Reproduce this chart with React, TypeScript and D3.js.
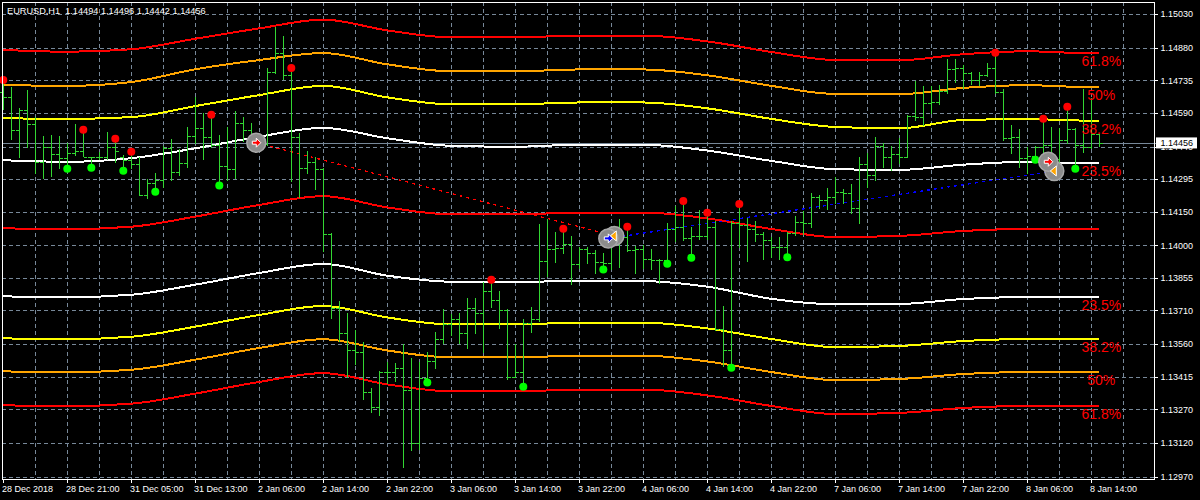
import React, { useEffect, useRef } from 'react';
import * as d3 from 'd3';

const W = 1200;
const H = 500;
const frame = { left: 2, top: 2, right: 1154, bottom: 479 };

const symbolTitle = 'EURUSD,H1  1.14494 1.14496 1.14442 1.14456';
const bidPrice = 1.14456;

// time labels sit on every 8th bar
const timeLabels = [
  '28 Dec 2018', '28 Dec 21:00', '31 Dec 05:00', '31 Dec 13:00', '2 Jan 06:00', '2 Jan 14:00',
  '2 Jan 22:00', '3 Jan 06:00', '3 Jan 14:00', '3 Jan 22:00', '4 Jan 06:00', '4 Jan 14:00',
  '4 Jan 22:00', '7 Jan 06:00', '7 Jan 14:00', '7 Jan 22:00', '8 Jan 06:00', '8 Jan 14:00'
];

const priceTicks = [
  1.15030, 1.14880, 1.14735, 1.14590, 1.14440, 1.14295, 1.14150, 1.14000,
  1.13855, 1.13710, 1.13560, 1.13415, 1.13270, 1.13120, 1.12970
];

// H1 bars, 28 Dec 13:00 .. 8 Jan 15:00
const opens = [
  1.14684, 1.14662, 1.14513, 1.14603, 1.14542, 1.14370, 1.14439, 1.14407, 1.14388, 1.14413,
  1.14420, 1.14395, 1.14392, 1.14395, 1.14438, 1.14393, 1.14380, 1.14362, 1.14226, 1.14276,
  1.14291, 1.14435, 1.14325, 1.14365, 1.14487, 1.14521, 1.14484, 1.14447, 1.14353, 1.14339,
  1.14546, 1.14513, 1.14477, 1.14451, 1.14773, 1.14855, 1.14758, 1.14484, 1.14343, 1.14370,
  1.14340, 1.14049, 1.13720, 1.13608, 1.13534, 1.13525, 1.13349, 1.13279, 1.13435, 1.13438,
  1.13455, 1.13356, 1.13121, 1.13410, 1.13487, 1.13583, 1.13650, 1.13671, 1.13608, 1.13722,
  1.13698, 1.13798, 1.13757, 1.13712, 1.13415, 1.13435, 1.13656, 1.13670, 1.13930, 1.13984,
  1.13987, 1.14006, 1.13916, 1.13982, 1.13965, 1.13927, 1.13920, 1.14031, 1.14039, 1.13979,
  1.13984, 1.13941, 1.13935, 1.13936, 1.14073, 1.14080, 1.14031, 1.14042, 1.14042, 1.14083,
  1.13626, 1.13534, 1.14098, 1.14089, 1.14073, 1.14051, 1.14024, 1.13994, 1.13994, 1.14056,
  1.14105, 1.14101, 1.14217, 1.14202, 1.14217, 1.14239, 1.14232, 1.14165, 1.14361, 1.14313,
  1.14442, 1.14395, 1.14407, 1.14395, 1.14576, 1.14570, 1.14635, 1.14640, 1.14687, 1.14784,
  1.14788, 1.14766, 1.14736, 1.14758, 1.14788, 1.14684, 1.14477, 1.14484, 1.14388, 1.14398,
  1.14437, 1.14447, 1.14384, 1.14469, 1.14517, 1.14447, 1.14439, 1.14494
];
const highs = [
  1.14721, 1.14704, 1.14610, 1.14692, 1.14573, 1.14487, 1.14491, 1.14487, 1.14457, 1.14540,
  1.14500, 1.14395, 1.14414, 1.14505, 1.14460, 1.14402, 1.14402, 1.14395, 1.14294, 1.14321,
  1.14442, 1.14475, 1.14428, 1.14526, 1.14662, 1.14588, 1.14573, 1.14490, 1.14526, 1.14597,
  1.14570, 1.14546, 1.14491, 1.14788, 1.14971, 1.14933, 1.14772, 1.14499, 1.14420, 1.14392,
  1.14343, 1.14054, 1.13752, 1.13700, 1.13623, 1.13571, 1.13364, 1.13441, 1.13482, 1.13478,
  1.13561, 1.13500, 1.13479, 1.13527, 1.13616, 1.13717, 1.13694, 1.13700, 1.13767, 1.13767,
  1.13836, 1.13832, 1.13798, 1.13717, 1.13560, 1.13672, 1.13724, 1.14095, 1.14116, 1.14058,
  1.14061, 1.14042, 1.13994, 1.13994, 1.13979, 1.13967, 1.14054, 1.14116, 1.14068, 1.13997,
  1.14002, 1.13984, 1.13939, 1.14098, 1.14175, 1.14182, 1.14080, 1.14157, 1.14131, 1.14108,
  1.13730, 1.14108, 1.14166, 1.14123, 1.14108, 1.14061, 1.14039, 1.14036, 1.14061, 1.14131,
  1.14153, 1.14234, 1.14224, 1.14254, 1.14306, 1.14250, 1.14273, 1.14395, 1.14413, 1.14481,
  1.14454, 1.14442, 1.14477, 1.14580, 1.14732, 1.14709, 1.14709, 1.14714, 1.14828, 1.14828,
  1.14803, 1.14773, 1.14773, 1.14811, 1.14843, 1.14695, 1.14536, 1.14518, 1.14439, 1.14442,
  1.14549, 1.14528, 1.14521, 1.14603, 1.14521, 1.14695, 1.14655, 1.14496
];
const lows = [
  1.14606, 1.14475, 1.14392, 1.14439, 1.14323, 1.14301, 1.14310, 1.14343, 1.14350, 1.14402,
  1.14398, 1.14365, 1.14383, 1.14384, 1.14371, 1.14353, 1.14344, 1.14223, 1.14212, 1.14255,
  1.14262, 1.14291, 1.14313, 1.14350, 1.14457, 1.14383, 1.14439, 1.14282, 1.14290, 1.14300,
  1.14465, 1.14445, 1.14425, 1.14445, 1.14769, 1.14739, 1.14288, 1.14217, 1.14321, 1.14250,
  1.13976, 1.13675, 1.13574, 1.13415, 1.13470, 1.13315, 1.13259, 1.13245, 1.13386, 1.13396,
  1.13015, 1.13089, 1.13093, 1.13405, 1.13453, 1.13564, 1.13601, 1.13567, 1.13544, 1.13608,
  1.13524, 1.13727, 1.13633, 1.13404, 1.13413, 1.13387, 1.13613, 1.13665, 1.13865, 1.13927,
  1.13965, 1.13827, 1.13898, 1.13920, 1.13876, 1.13908, 1.13893, 1.13902, 1.13975, 1.13878,
  1.13898, 1.13893, 1.13834, 1.13935, 1.14021, 1.14024, 1.13962, 1.14027, 1.14027, 1.13623,
  1.13463, 1.13472, 1.13994, 1.13932, 1.14021, 1.13938, 1.13950, 1.13939, 1.13962, 1.14046,
  1.14049, 1.14080, 1.14165, 1.14161, 1.14190, 1.14187, 1.14143, 1.14101, 1.14261, 1.14291,
  1.14348, 1.14336, 1.14365, 1.14392, 1.14558, 1.14536, 1.14588, 1.14629, 1.14677, 1.14729,
  1.14699, 1.14718, 1.14714, 1.14755, 1.14680, 1.14469, 1.14413, 1.14350, 1.14321, 1.14398,
  1.14372, 1.14343, 1.14349, 1.14455, 1.14358, 1.14417, 1.14435, 1.14442
];
const closes = [
  1.14662, 1.14513, 1.14603, 1.14542, 1.14370, 1.14439, 1.14407, 1.14388, 1.14413, 1.14420,
  1.14395, 1.14392, 1.14395, 1.14438, 1.14420, 1.14380, 1.14362, 1.14226, 1.14276, 1.14291,
  1.14435, 1.14325, 1.14365, 1.14487, 1.14521, 1.14484, 1.14447, 1.14353, 1.14339, 1.14546,
  1.14513, 1.14477, 1.14451, 1.14773, 1.14855, 1.14758, 1.14484, 1.14343, 1.14370, 1.14340,
  1.14049, 1.13720, 1.13608, 1.13534, 1.13525, 1.13349, 1.13279, 1.13435, 1.13438, 1.13455,
  1.13356, 1.13121, 1.13410, 1.13487, 1.13583, 1.13650, 1.13671, 1.13608, 1.13722, 1.13698,
  1.13798, 1.13757, 1.13712, 1.13415, 1.13435, 1.13656, 1.13670, 1.13930, 1.13984, 1.13987,
  1.14006, 1.13916, 1.13982, 1.13965, 1.13927, 1.13920, 1.14031, 1.14039, 1.13979, 1.13984,
  1.13941, 1.13935, 1.13936, 1.14073, 1.14080, 1.14031, 1.14042, 1.14042, 1.14083, 1.13626,
  1.13534, 1.14098, 1.14089, 1.14073, 1.14051, 1.14024, 1.13994, 1.13994, 1.14056, 1.14105,
  1.14101, 1.14217, 1.14202, 1.14217, 1.14239, 1.14232, 1.14165, 1.14361, 1.14313, 1.14442,
  1.14395, 1.14407, 1.14395, 1.14576, 1.14570, 1.14635, 1.14640, 1.14687, 1.14784, 1.14788,
  1.14766, 1.14736, 1.14758, 1.14788, 1.14684, 1.14477, 1.14484, 1.14388, 1.14398, 1.14437,
  1.14447, 1.14384, 1.14469, 1.14517, 1.14447, 1.14439, 1.14494, 1.14456
];

// band curves, sampled every 8 bars (last point = last bar)
const bandBars = [0, 8, 16, 24, 32, 40, 48, 56, 64, 72, 80, 88, 96, 104, 112, 120, 128, 136, 137];
const midLine = [1.14076, 1.14072, 1.14083, 1.14128, 1.14180, 1.14219, 1.14169, 1.14138, 1.14138, 1.14146, 1.14146, 1.14120, 1.14073, 1.14037, 1.14042, 1.14064, 1.14073, 1.14073, 1.14073];
const upper235 = [1.14379, 1.14372, 1.14388, 1.14432, 1.14484, 1.14523, 1.14477, 1.14443, 1.14439, 1.14448, 1.14448, 1.14422, 1.14376, 1.14339, 1.14336, 1.14359, 1.14372, 1.14365, 1.14365];
const upper382 = [1.14566, 1.14563, 1.14571, 1.14620, 1.14669, 1.14710, 1.14659, 1.14628, 1.14628, 1.14636, 1.14636, 1.14610, 1.14563, 1.14527, 1.14521, 1.14558, 1.14562, 1.14555, 1.14555];
const upper50 = [1.14714, 1.14710, 1.14727, 1.14784, 1.14825, 1.14856, 1.14806, 1.14775, 1.14775, 1.14783, 1.14783, 1.14757, 1.14710, 1.14674, 1.14673, 1.14701, 1.14713, 1.14704, 1.14704];
const upper618 = [1.14870, 1.14862, 1.14873, 1.14920, 1.14966, 1.15005, 1.14957, 1.14926, 1.14926, 1.14934, 1.14934, 1.14908, 1.14861, 1.14825, 1.14824, 1.14851, 1.14864, 1.14855, 1.14855];
const lower235 = [1.13773, 1.13769, 1.13780, 1.13825, 1.13877, 1.13917, 1.13865, 1.13838, 1.13836, 1.13843, 1.13841, 1.13816, 1.13762, 1.13738, 1.13739, 1.13761, 1.13770, 1.13770, 1.13770];
const lower382 = [1.13586, 1.13582, 1.13593, 1.13638, 1.13690, 1.13730, 1.13679, 1.13648, 1.13648, 1.13656, 1.13656, 1.13630, 1.13583, 1.13547, 1.13552, 1.13574, 1.13583, 1.13583, 1.13583];
const lower50 = [1.13439, 1.13435, 1.13446, 1.13491, 1.13543, 1.13582, 1.13532, 1.13501, 1.13501, 1.13509, 1.13509, 1.13483, 1.13436, 1.13400, 1.13405, 1.13427, 1.13436, 1.13436, 1.13436];
const lower618 = [1.13288, 1.13284, 1.13295, 1.13340, 1.13392, 1.13431, 1.13381, 1.13350, 1.13350, 1.13358, 1.13358, 1.13332, 1.13285, 1.13249, 1.13254, 1.13276, 1.13285, 1.13285, 1.13285];
const fibLabels = ['23.5%', '38.2%', '50%', '61.8%'];

// fractal-like dots
const redDotBars = [0, 10, 14, 16, 26, 36, 61, 70, 78, 85, 88, 92, 124, 130, 133];
const redDotPrices = [1.14736, 1.14515, 1.14475, 1.14417, 1.14582, 1.14790, 1.13847, 1.14074, 1.14083, 1.14197, 1.14145, 1.14184, 1.14858, 1.14564, 1.14617];
const greenDotBars = [8, 11, 15, 19, 27, 53, 65, 75, 83, 86, 91, 98, 129, 132, 134];
const greenDotPrices = [1.14341, 1.14346, 1.14332, 1.14239, 1.14266, 1.13389, 1.13371, 1.13892, 1.13918, 1.13945, 1.13455, 1.13947, 1.14381, 1.14332, 1.14341];

// signal markers
const signalBars = [32, 76, 131];
const signalPrices = [1.14457, 1.14031, 1.14372];
const signalColors = ['#ff0000', '#0000ff', '#ff0000'];
const exitBars = [76, 131];
const exitPrices = [1.14042, 1.14331];

const font = "'Liberation Sans', Arial, sans-serif";

const App: React.FC = () => {
  const svgRef = useRef<SVGSVGElement>(null);

  useEffect(() => {
    if (!svgRef.current) return;
    const svg = d3.select(svgRef.current);
    svg.selectAll('*').remove();

    const x = d3.scaleLinear().domain([0, 137]).range([3.3, 1099.3]);
    const y = d3.scaleLinear().domain([1.12970, 1.15030]).range([476.7, 14]);
    const px = (v: number) => Math.round(v) + 0.5;

    svg.append('rect').attr('width', W).attr('height', H).attr('fill', '#000');

    // grid
    const grid = svg.append('g')
      .attr('stroke', '#778899')
      .attr('stroke-dasharray', '4,3')
      .attr('shape-rendering', 'crispEdges');
    priceTicks.forEach(p => {
      grid.append('line')
        .attr('x1', frame.left).attr('x2', frame.right)
        .attr('y1', px(y(p))).attr('y2', px(y(p)));
    });
    d3.range(4, 141, 4).forEach(i => {
      grid.append('line')
        .attr('x1', px(x(i))).attr('x2', px(x(i)))
        .attr('y1', frame.top).attr('y2', frame.bottom);
    });

    // bid line
    svg.append('line')
      .attr('x1', frame.left).attr('x2', 1156)
      .attr('y1', px(y(bidPrice))).attr('y2', px(y(bidPrice)))
      .attr('stroke', '#778899')
      .attr('shape-rendering', 'crispEdges');

    // bands
    const line = d3.line<number>()
      .x((_, k) => x(bandBars[k]))
      .y(d => y(d))
      .curve(d3.curveMonotoneX);
    const bands: [number[], string][] = [
      [upper618, '#ff0000'], [upper50, '#ffa500'], [upper382, '#ffff00'], [upper235, '#ffffff'],
      [midLine, '#ff0000'],
      [lower235, '#ffffff'], [lower382, '#ffff00'], [lower50, '#ffa500'], [lower618, '#ff0000']
    ];
    bands.forEach(([vals, color]) => {
      svg.append('path')
        .attr('d', line(vals))
        .attr('fill', 'none')
        .attr('stroke', color)
        .attr('stroke-width', 2)
        .attr('shape-rendering', 'crispEdges');
    });

    // dotted links between signals
    const sx = (i: number) => x(signalBars[i]) - 3;
    const sy = (i: number) => y(signalPrices[i]);
    const ex = (i: number) => x(exitBars[i]) + 3;
    const ey = (i: number) => y(exitPrices[i]);
    svg.append('line')
      .attr('x1', sx(0)).attr('y1', sy(0)).attr('x2', ex(0)).attr('y2', ey(0))
      .attr('stroke', '#ff0000').attr('stroke-width', 1.3).attr('stroke-dasharray', '3,4')
      .attr('shape-rendering', 'crispEdges');
    svg.append('line')
      .attr('x1', sx(1)).attr('y1', sy(1)).attr('x2', ex(1)).attr('y2', ey(1))
      .attr('stroke', '#0000ff').attr('stroke-width', 1.3).attr('stroke-dasharray', '3,4')
      .attr('shape-rendering', 'crispEdges');

    // OHLC bars
    const bars = svg.append('g')
      .attr('stroke', '#32d632')
      .attr('shape-rendering', 'crispEdges');
    opens.forEach((o, i) => {
      const cx = px(x(i));
      bars.append('line').attr('x1', cx).attr('x2', cx)
        .attr('y1', Math.round(y(highs[i]))).attr('y2', Math.round(y(lows[i])) + 1);
      bars.append('line').attr('x1', cx - 3.5).attr('x2', cx)
        .attr('y1', px(y(o))).attr('y2', px(y(o)));
      bars.append('line').attr('x1', cx).attr('x2', cx + 3.5)
        .attr('y1', px(y(closes[i]))).attr('y2', px(y(closes[i])));
    });

    // dots
    redDotBars.forEach((b, k) => {
      svg.append('circle').attr('cx', x(b)).attr('cy', y(redDotPrices[k])).attr('r', 4).attr('fill', '#ff0000');
    });
    greenDotBars.forEach((b, k) => {
      svg.append('circle').attr('cx', x(b)).attr('cy', y(greenDotPrices[k])).attr('r', 4).attr('fill', '#00ff00');
    });

    // signal circles with arrows
    const halo = (cx: number, cy: number) => {
      svg.append('circle').attr('cx', cx).attr('cy', cy).attr('r', 9.5)
        .attr('fill', '#8c8c8c').attr('stroke', '#a8a8a8').attr('stroke-width', 1.5);
    };
    exitBars.forEach((_, i) => halo(ex(i), ey(i)));
    signalBars.forEach((_, i) => halo(sx(i), sy(i)));
    exitBars.forEach((_, i) => {
      const cx = ex(i), cy = ey(i);
      svg.append('path')
        .attr('d', `M${cx - 4},${cy} L${cx + 2},${cy - 5} L${cx + 2},${cy + 5} Z`)
        .attr('fill', '#ffa500').attr('stroke', '#ffffff').attr('stroke-width', 1);
    });
    signalBars.forEach((_, i) => {
      const cx = sx(i), cy = sy(i);
      svg.append('path')
        .attr('d', `M${cx - 4},${cy - 1.5} H${cx} V${cy - 4.5} L${cx + 4.5},${cy} L${cx},${cy + 4.5} V${cy + 1.5} H${cx - 4} Z`)
        .attr('fill', signalColors[i]).attr('stroke', '#ffffff').attr('stroke-width', 1);
    });

    // fib labels
    const labelX = x(137) + 2;
    const upper = [upper235, upper382, upper50, upper618];
    const lower = [lower235, lower382, lower50, lower618];
    [...upper, ...lower].forEach((vals, k) => {
      svg.append('text')
        .attr('x', labelX)
        .attr('y', y(vals[vals.length - 1]) + 13)
        .attr('text-anchor', 'middle')
        .attr('fill', '#ff0000')
        .attr('font-family', font)
        .attr('font-size', 14)
        .text(fibLabels[k % 4]);
    });

    // frame
    svg.append('rect')
      .attr('x', frame.left + 0.5).attr('y', frame.top + 0.5)
      .attr('width', frame.right - frame.left).attr('height', frame.bottom - frame.top)
      .attr('fill', 'none').attr('stroke', '#ffffff')
      .attr('shape-rendering', 'crispEdges');

    // price axis
    const yAxis = svg.append('g').attr('font-family', font).attr('font-size', 9).attr('fill', '#ffffff');
    priceTicks.forEach(p => {
      yAxis.append('line')
        .attr('x1', frame.right).attr('x2', frame.right + 4)
        .attr('y1', px(y(p))).attr('y2', px(y(p)))
        .attr('stroke', '#ffffff').attr('shape-rendering', 'crispEdges');
      yAxis.append('text').attr('x', frame.right + 6.5).attr('y', y(p) + 3.3).text(p.toFixed(5));
    });

    // bid label box
    svg.append('rect')
      .attr('x', 1156).attr('y', y(bidPrice) - 5.5)
      .attr('width', 41).attr('height', 11)
      .attr('fill', '#ffffff');
    svg.append('text')
      .attr('x', frame.right + 6.5).attr('y', y(bidPrice) + 3.5)
      .attr('font-family', font).attr('font-size', 9).attr('fill', '#000000')
      .text(bidPrice.toFixed(5));

    // time axis
    const xAxis = svg.append('g').attr('font-family', font).attr('font-size', 9).attr('fill', '#ffffff');
    timeLabels.forEach((t, k) => {
      const tx = px(x(k * 8));
      xAxis.append('line')
        .attr('x1', tx).attr('x2', tx)
        .attr('y1', frame.bottom).attr('y2', frame.bottom + 4)
        .attr('stroke', '#ffffff').attr('shape-rendering', 'crispEdges');
      xAxis.append('text').attr('x', tx - 1.5).attr('y', 492).text(t);
    });

    // title
    svg.append('text')
      .attr('x', 7).attr('y', 14)
      .attr('font-family', font).attr('font-size', 9.2).attr('fill', '#ffffff')
      .attr('xml:space', 'preserve')
      .style('white-space', 'pre')
      .text(symbolTitle);
  }, []);

  return (
    <svg
      ref={svgRef}
      width={W}
      height={H}
      style={{ position: 'absolute', left: 0, top: 0, display: 'block' }}
    />
  );
};

export default App;
